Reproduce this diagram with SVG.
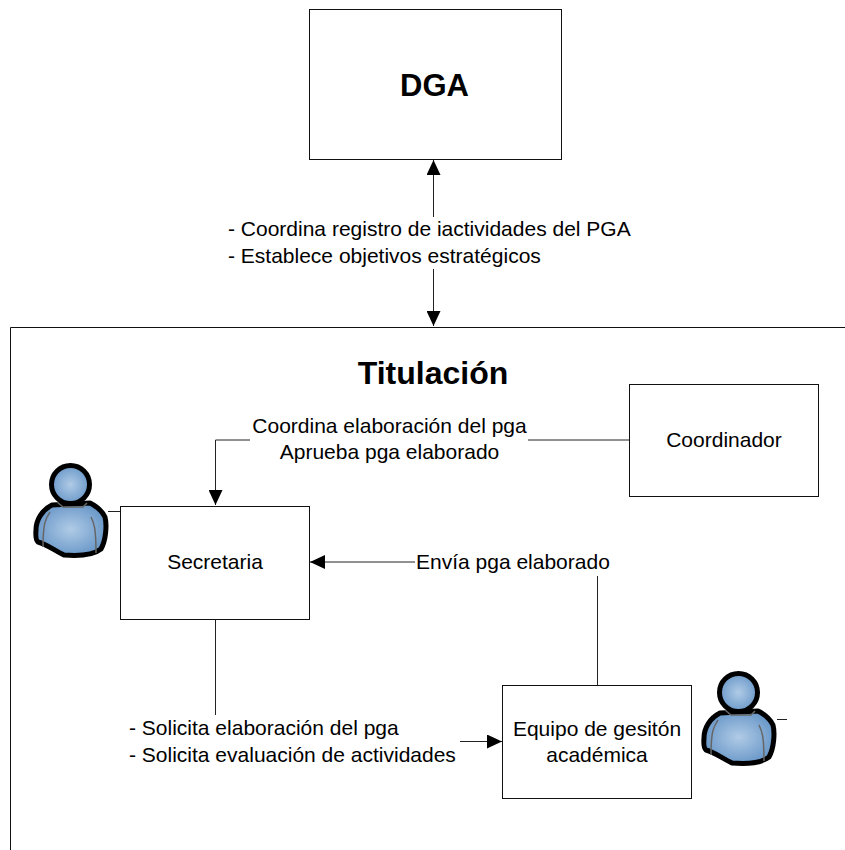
<svg xmlns="http://www.w3.org/2000/svg" width="845" height="850" viewBox="0 0 845 850">
<style>
text{font-family:"Liberation Sans",Arial,sans-serif;fill:#000;font-size:21px}
.box{fill:#fff;stroke:#111;stroke-width:1}
.c{fill:none;stroke:#222;stroke-width:1}
.m{text-anchor:middle}
.sh{fill:url(#g);stroke:#000;stroke-width:5;stroke-linejoin:round}
.in{fill:none;stroke:#666;stroke-width:1.5}
</style>
<defs>
<radialGradient id="g" cx="50%" cy="50%" r="60%"><stop offset="0" stop-color="#b0cbe6"/><stop offset="1" stop-color="#5f90c4"/></radialGradient>
<marker id="a" markerWidth="15" markerHeight="14" refX="15" refY="7" orient="auto" markerUnits="userSpaceOnUse"><path d="M0 0L15 7L0 14Z" fill="#000"/></marker>
<g id="p">
<path class="sh" d="M52 505C42 510 36 520 36 530C35.500 536 35.500 540 38 542C46 544 54 550 64 555C76 556 92 556 101 549C106 540 107 525 105 517C102 511 96 506 90 503Z"/>
<circle class="sh" cx="70.500" cy="484.500" r="19"/>
<path class="in" d="M57 502L63 507H83L87 503M50 512C46 518 43 522 43 547M91 517C94 523 96 528 96 553"/>
</g>
</defs>
<g id="titulacion"><path class="box" d="M845 327.500H10.500V850"/><text class="m" x="433" y="384" style="font-size:32px;font-weight:bold">Titulación</text></g>
<g id="connectors">
<path class="c" d="M433.500 217V160" marker-end="url(#a)"/>
<path class="c" d="M433.500 269V326" marker-end="url(#a)"/>
<path class="c" d="M629 440H528M250 440H215.500V505" marker-end="url(#a)"/>
<path class="c" d="M597.500 685V576M415 562H310" marker-end="url(#a)"/>
<path class="c" d="M215.500 620V715"/>
<path class="c" d="M460 741.500H502" marker-end="url(#a)"/>
<path class="c" d="M108 511.500H120M777 719.500H787"/>
</g>
<g id="dga"><rect class="box" x="309.500" y="9.500" width="252" height="150"/><text class="m" x="434.500" y="96" style="font-size:31px;font-weight:bold">DGA</text></g>
<g id="coordinador"><rect class="box" x="629.500" y="384.500" width="189" height="112"/><text class="m" x="724" y="447">Coordinador</text></g>
<g id="secretaria"><rect class="box" x="120.500" y="506.500" width="189" height="113"/><text class="m" x="215" y="569">Secretaria</text></g>
<g id="equipo"><rect class="box" x="502.500" y="685.500" width="189" height="113"/><text class="m" x="597" y="736">Equipo de gesitón</text><text class="m" x="597" y="762">académica</text></g>
<g id="persona1"><use href="#p"/></g>
<g id="persona2"><use href="#p" x="668" y="208"/></g>
<g id="labels">
<text x="228" y="236">- Coordina registro de iactividades del PGA</text>
<text x="228" y="263">- Establece objetivos estratégicos</text>
<text class="m" x="389.500" y="433">Coordina elaboración del pga</text>
<text class="m" x="389.500" y="459">Aprueba pga elaborado</text>
<text x="416" y="569">Envía pga elaborado</text>
<text x="129" y="735">- Solicita elaboración del pga</text>
<text x="129" y="762">- Solicita evaluación de actividades</text>
</g>
</svg>
